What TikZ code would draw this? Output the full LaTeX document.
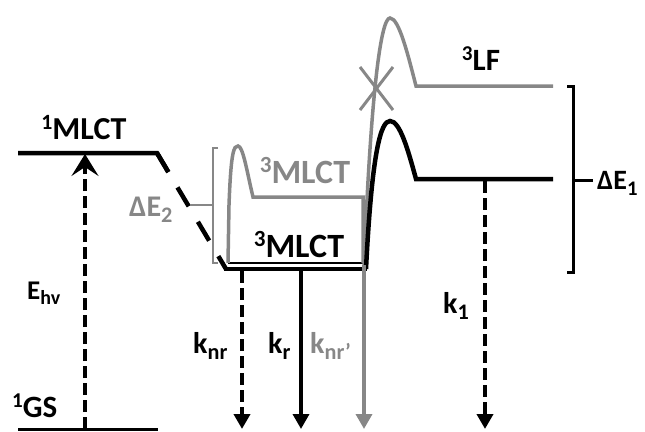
\documentclass[tikz,border=0pt]{standalone}
\usepackage{fontspec}
\setmainfont{Carlito}
\usepackage{graphicx}
\usetikzlibrary{arrows.meta,calc}
\definecolor{gry}{RGB}{135,135,135}
\newcommand\hi[1]{\raisebox{0.30em}{\scalebox{0.68}{#1}}}
\newcommand\lo[1]{\raisebox{-0.22em}{\scalebox{0.74}{#1}}}
\newcommand\fs[1]{\fontsize{#1}{#1}\selectfont\bfseries}
\begin{document}
\begin{tikzpicture}[x=1pt,y=-1pt,
  blk/.style={line width=4.5pt,black},
  gryl/.style={line width=3.5pt,gry},
  dsh/.style={dash pattern=on 12pt off 5pt},
  tip/.style={-{Triangle[width=16pt,length=15pt]}},
  lbl/.style={inner sep=0pt,anchor=base}]
\useasboundingbox (0,0) rectangle (645,431);
% coordinates
\coordinate (gsL) at (18,429);
\coordinate (gsR) at (158,429);
\coordinate (smL) at (18,153);
\coordinate (smR) at (157,153);
\coordinate (tmL) at (224,269);
\coordinate (tmR) at (367,269);
\coordinate (slantEnd) at (226,269);
% ground state
\draw[line width=3pt] (gsL) -- (gsR);
% 1MLCT
\draw[blk,line join=miter] (smL) -- (smR) -- ($(smR)!0.165!(slantEnd)$);
\draw[blk,dash pattern=on 22pt off 18pt] (smR) -- (slantEnd);
% black 3MLCT
\draw[blk] (tmL) -- (tmR);
\draw[line width=1.6pt] (228,263) -- (363,263);
% gray 3MLCT barrier
\draw[gryl,line join=miter] (228,263) -- (229,205) .. controls (231,150) and (234,146) .. (238,146)
  .. controls (243,146) and (247,172) .. (253,197) -- (363,197) -- (363,263);
% gray 3LF curve
\draw[gryl,line join=miter] (364,265) .. controls (371,90) and (381,18) .. (390,18)
  .. controls (399,18) and (408,55) .. (416,86) -- (553,86);
% black 3LF-related curve
\draw[blk,line join=miter] (366,269) .. controls (372,150) and (381,121) .. (390,121)
  .. controls (400,121) and (408,150) .. (416,179) -- (553,179);
% X mark
\draw[gry,line width=3pt] (360,67) -- (393,110) (393,67) -- (360,110);
% brackets
\draw[gry,line width=2.5pt] (218,148) -- (213,148) -- (213,263) -- (218,263);
\draw[gry,line width=2.5pt] (213,205) -- (190,205);
\draw[line width=3pt] (567,86) -- (573,86) -- (573,272) -- (567,272);
\draw[line width=3pt] (573,180) -- (593,180);
% arrows
\coordinate (ehvS) at (85,429);
\coordinate (ehvE) at (85,154);
\draw[line width=4.5pt,dsh,-{Stealth[width=27pt,length=22pt,inset=9pt]}] (ehvS) -- (ehvE);
\coordinate (knrS) at (242,271);
\coordinate (knrE) at (242,429);
\draw[line width=4.5pt,dsh,tip] (knrS) -- (knrE);
\coordinate (krS) at (301,271);
\coordinate (krE) at (301,429);
\draw[line width=3.5pt,tip] (krS) -- (krE);
\coordinate (knpS) at (364,265);
\coordinate (knpE) at (364,429);
\draw[line width=3.5pt,gry,tip] (knpS) -- (knpE);
\coordinate (k1S) at (485,181);
\coordinate (k1E) at (485,429);
\draw[line width=4.5pt,dsh,tip] (k1S) -- (k1E);
% labels
\node[lbl] (l1mlct) at (84,139) {\fs{32}\hi{1}MLCT};
\node[lbl,text=gry] (l3mlctg) at (305,183) {\fs{34}\hi{3}MLCT};
\node[lbl] (l3mlctb) at (299,257) {\fs{34}\hi{3}MLCT};
\node[lbl] (l3lf) at (481,70) {\fs{31}\hi{3}LF};
\node[lbl,anchor=base west] (de1) at (597,189) {\fs{28}ΔE\lo{1}};
\node[lbl,anchor=base west,text=gry] (de2) at (129,216) {\fs{30}ΔE\lo{2}};
\node[lbl,anchor=base west] (ehv) at (27,299) {\fs{27}E\lo{hv}};
\node[lbl,anchor=base west] (gs) at (12,417) {\fs{31}\hi{1}GS};
\node[lbl,anchor=base west] (knr) at (193,353) {\fs{30}k\lo{nr}};
\node[lbl,anchor=base west] (kr) at (268,353) {\fs{30}k\lo{r}};
\node[lbl,anchor=base west,text=gry] (knp) at (310,353) {\fs{30}k\lo{nr’}};
\node[lbl,anchor=base west] (k1) at (443,313) {\fs{30}k\lo{1}};
\end{tikzpicture}
\end{document}
